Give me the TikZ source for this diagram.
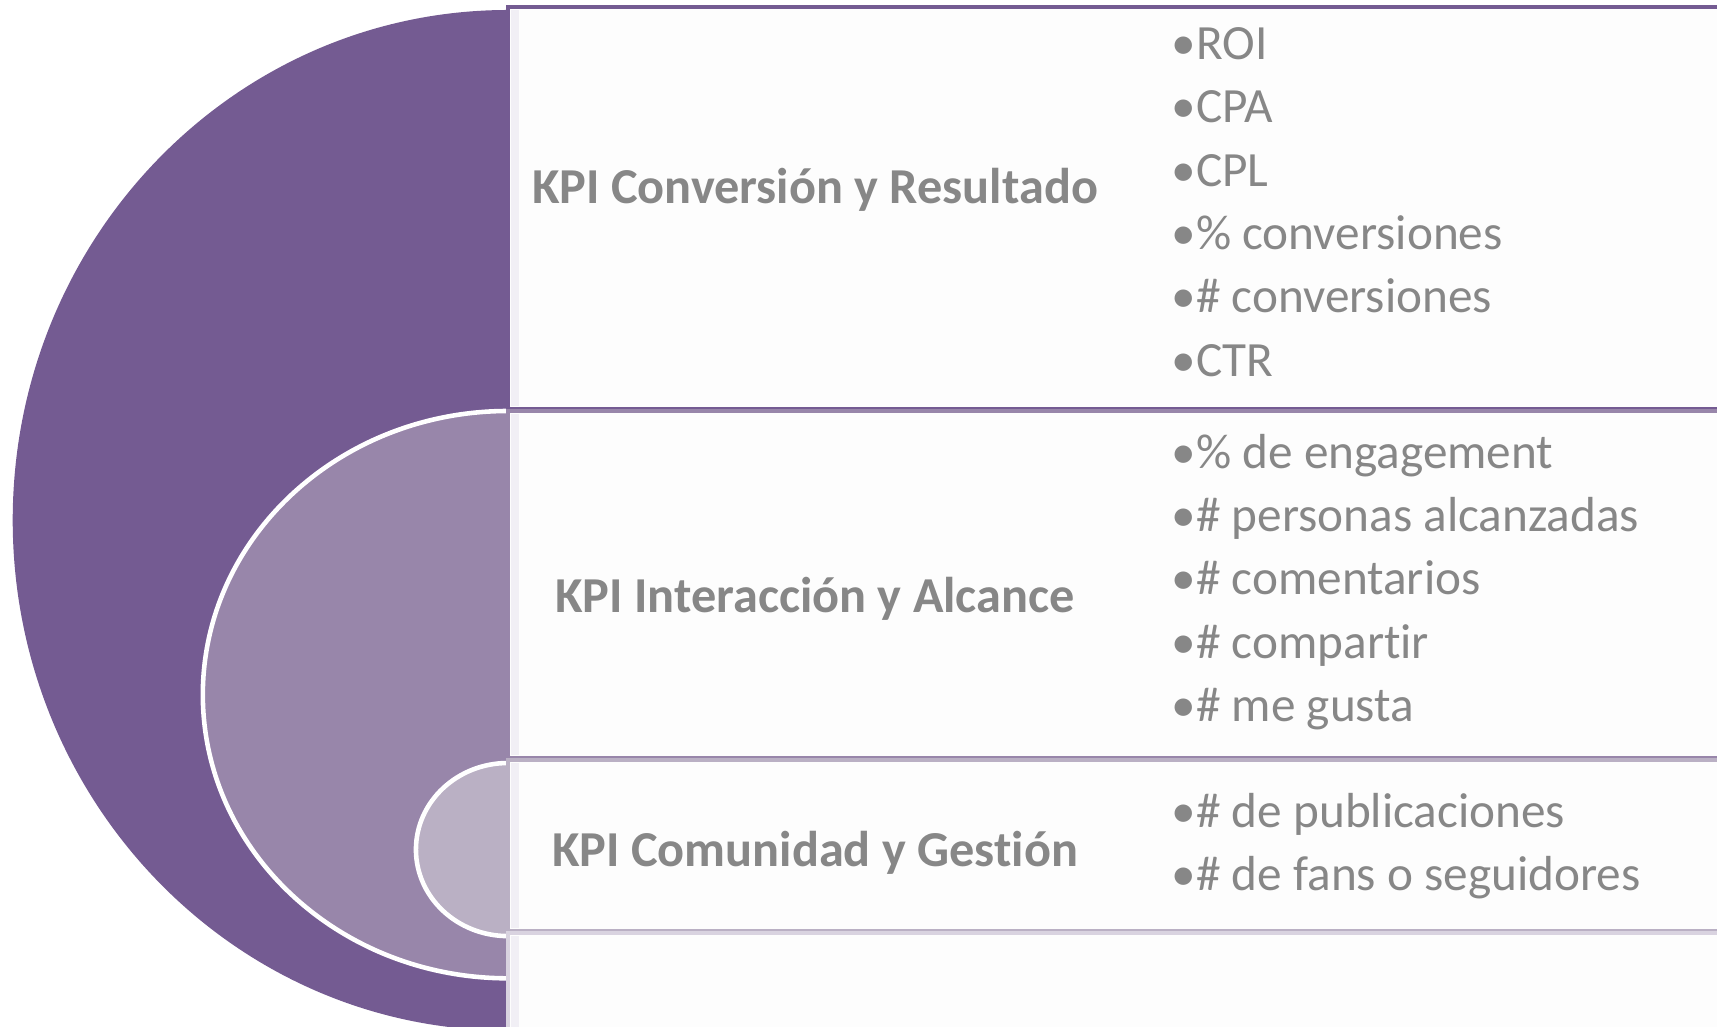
\documentclass[tikz,border=0pt]{standalone}
\usepackage{fontspec}
\setmainfont{Carlito}[Ligatures=NoCommon]
\definecolor{kpiA}{HTML}{745B92}
\definecolor{kpiB}{HTML}{9886AA}
\definecolor{kpiC}{HTML}{BAB0C4}
\definecolor{kpiD}{HTML}{D9D3E0}
\definecolor{kpifondo}{HTML}{FDFDFD}
\definecolor{kpifranja}{HTML}{F1EFF5}
\definecolor{kpitexto}{HTML}{878787}
\begin{document}
\begin{tikzpicture}[x=0.01cm,y=0.01cm,
  titulo/.style={font=\fontsize{14.3}{17}\selectfont\bfseries,text=kpitexto},
  lista/.style={font=\fontsize{14}{18}\selectfont,text=kpitexto,align=left,anchor=west,inner sep=0pt}]
  \useasboundingbox (0,0) rectangle (1717,1027);
  \clip (0,0) rectangle (1717,1027);
  % semielipses concentricas
  \fill[kpiA] (508,1017) arc[start angle=90,end angle=270,x radius=4.95cm,y radius=5.10cm] -- cycle;
  \fill[kpiB] (508,616) arc[start angle=90,end angle=270,x radius=3.05cm,y radius=2.835cm] -- cycle;
  \draw[white,line width=1.3pt] (508,616) arc[start angle=90,end angle=270,x radius=3.05cm,y radius=2.835cm];
  \fill[kpiC] (508,264) arc[start angle=90,end angle=270,x radius=0.92cm,y radius=0.865cm] -- cycle;
  \draw[white,line width=1.3pt] (508,264) arc[start angle=90,end angle=270,x radius=0.92cm,y radius=0.865cm];
  % cajas
  \foreach \yt/\yb/\c in {1020/618/kpiA, 616/269/kpiB, 267/96/kpiC, 94/-20/kpiD}{
    \filldraw[fill=kpifondo,draw=\c,line width=1.2pt] (508,\yb) rectangle (1760,\yt);
    \fill[kpifranja] (511,\yb+3) rectangle (519,\yt-3);}
  % textos
  \node[titulo] (tconv) at (815,837) {KPI Conversión y Resultado};
  \node[lista] (lconv) at (1171,825) {•ROI\\•CPA\\•CPL\\•\% conversiones\\•\# conversiones\\•CTR};
  \node[titulo] (tinter) at (815,428) {KPI Interacción y Alcance};
  \node[lista] (linter) at (1171,445) {•\% de engagement\\•\# personas alcanzadas\\•\# comentarios\\•\# compartir\\•\# me gusta};
  \node[titulo] (tcomu) at (815,174) {KPI Comunidad y Gestión};
  \node[lista] (lcomu) at (1171,181) {•\# de publicaciones\\•\# de fans o seguidores};
\end{tikzpicture}
\end{document}
